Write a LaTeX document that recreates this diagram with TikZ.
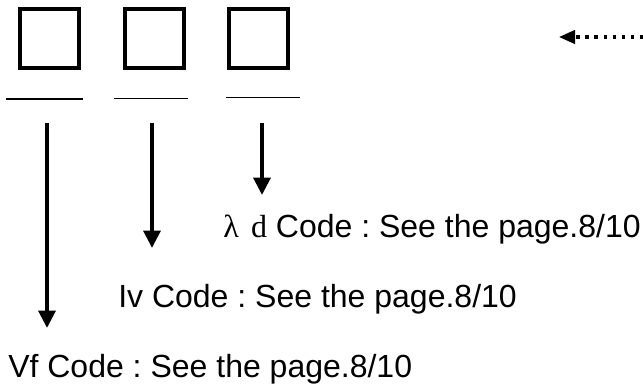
\documentclass[tikz,border=0pt]{standalone}
\usepackage{fontspec}
\setmainfont{Liberation Sans}
\newfontfamily\greekfont{Liberation Serif}
\usetikzlibrary{arrows.meta}
\frenchspacing

\begin{document}
\begin{tikzpicture}[x=0.75pt,y=-0.75pt,
    codebox/.style={draw, line width=3pt, minimum size=44.25pt, inner sep=0pt},
    codeline/.style={line width=1.2pt},
    codearrow/.style={line width=3pt, -{Triangle[length=13pt, width=12.5pt]}},
    codetext/.style={anchor=base west, inner sep=0pt, font=\fontsize{24}{28}\selectfont}]
    \useasboundingbox (0,0) rectangle (643,383);
    \node[codebox] (vf) at (49.5,38.5) {};
    \node[codebox] (iv) at (154,38.5) {};
    \node[codebox] (ld) at (258,38.5) {};
    \draw[codeline] (6,99) -- (83,99);
    \draw[codeline] (114,98.5) -- (188,98.5);
    \draw[codeline] (226,97.5) -- (300,97.5);
    \coordinate (vf top) at (47,123);
    \coordinate (vf end) at (47,328);
    \coordinate (iv top) at (152,123);
    \coordinate (iv end) at (152,248);
    \coordinate (ld top) at (262,123);
    \coordinate (ld end) at (262,195);
    \draw[codearrow] (vf top) -- (vf end);
    \draw[codearrow] (iv top) -- (iv end);
    \draw[codearrow] (ld top) -- (ld end);
    \node[codetext] (ld text) at (223,237) {{\greekfont λ\hspace{9.2pt}d} Code : See the page.8/10};
    \node[codetext] (iv text) at (118,307) {Iv Code : See the page.8/10};
    \node[codetext] (vf text) at (8,377) {Vf Code : See the page.8/10};
    % dotted pointer on the right
    \coordinate (dot start) at (643,37);
    \coordinate (dot end) at (559,37);
    \draw[line width=2.4pt, dash pattern=on 2.4pt off 4.4pt,
        -{Triangle[length=12pt, width=10pt]}] (dot start) -- (dot end);
\end{tikzpicture}
\end{document}
